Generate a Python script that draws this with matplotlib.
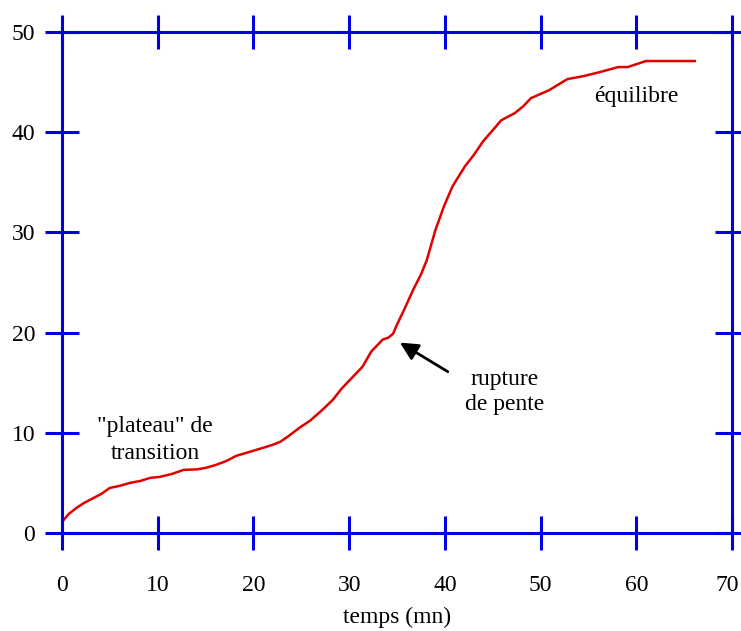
import matplotlib
matplotlib.use('Agg')
import matplotlib.pyplot as plt
from matplotlib.transforms import ScaledTranslation

# ------------------- Data -------------------
temps = [0.0, 0.7, 1.5, 2.3, 3.3, 4.1, 5.0, 6.0, 7.1, 8.2, 9.2, 10.2,
         11.5, 12.7, 14.1, 15.0, 16.1, 17.2, 18.2, 19.6, 21.0, 22.0, 22.8,
         23.7, 24.8, 25.9, 27.1, 28.3, 29.2, 30.3, 31.4, 32.3, 33.5, 34.1,
         34.6, 34.9, 35.8, 36.7, 37.5, 38.1, 39.0, 39.9, 40.8, 42.1, 43.0,
         44.0, 45.0, 45.9, 47.3, 48.2, 49.0, 50.9, 52.8, 54.5, 56.2, 58.1,
         59.1, 61.0, 66.1]
valeur = [1.1, 1.9, 2.5, 3.0, 3.5, 3.9, 4.5, 4.7, 5.0, 5.2, 5.5, 5.6,
          5.9, 6.3, 6.35, 6.5, 6.8, 7.2, 7.7, 8.1, 8.5, 8.8, 9.1,
          9.7, 10.5, 11.2, 12.2, 13.3, 14.4, 15.5, 16.6, 18.1, 19.3, 19.5,
          19.9, 20.6, 22.4, 24.3, 25.8, 27.2, 30.2, 32.6, 34.6, 36.6, 37.7,
          39.1, 40.2, 41.2, 41.9, 42.6, 43.4, 44.2, 45.3, 45.6, 46.0, 46.5,
          46.5, 47.1, 47.1]
xticks = [0, 10, 20, 30, 40, 50, 60, 70]
yticks = [0, 10, 20, 30, 40, 50]

BLUE = '#0000e0'
RED = '#e00000'

plt.rcParams['font.family'] = ['Liberation Serif', 'DejaVu Serif']
plt.rcParams['font.size'] = 17

fig = plt.figure(figsize=(7.41, 6.31), dpi=100)
ax = fig.add_axes([0.0837, 0.1553, 0.9042, 0.794])

ax.plot(temps, valeur, color=RED, lw=1.8)

ax.set_xlim(0, 70)
ax.set_ylim(0, 50)
ax.set_xticks(xticks)
ax.set_yticks(yticks)

for s in ax.spines.values():
    s.set_color(BLUE)
    s.set_linewidth(2.2)

ax.tick_params(axis='both', which='major', direction='inout', length=24.5,
               width=2.2, color=BLUE, top=True, right=True,
               labeltop=False, labelright=False, labelsize=17)
ax.tick_params(axis='x', pad=18)
ax.tick_params(axis='y', pad=7)

# last x label sits a little left of its tick, as in the reference
last = ax.get_xticklabels()[-1]
last.set_transform(last.get_transform() +
                   ScaledTranslation(-5 / 100, 0, fig.dpi_scale_trans))

ax.set_xlabel('temps (mn)', fontsize=17, labelpad=8)

# ------------------- Annotations -------------------
ax.text(60.0, 43.6, 'équilibre', ha='center', va='center', fontsize=17)
ax.text(46.2, 14.1, 'rupture\nde pente', ha='center', va='center',
        fontsize=17, linespacing=1.25)
ax.text(9.7, 9.3, '"plateau" de\ntransition', ha='center', va='center',
        fontsize=17, linespacing=1.35)
ax.annotate('', xy=(35.3, 19.0), xytext=(40.3, 16.1),
            arrowprops=dict(arrowstyle='-|>', color='black', lw=2,
                            mutation_scale=27, shrinkA=0, shrinkB=0))

fig.savefig('out.png', dpi=100)
